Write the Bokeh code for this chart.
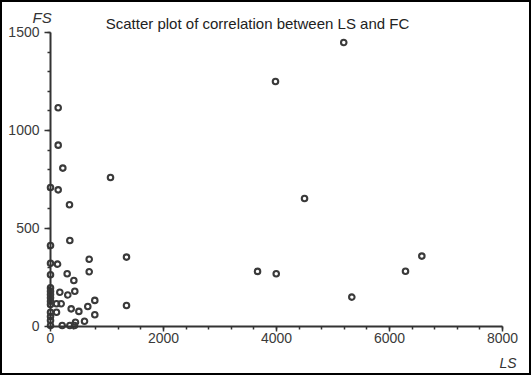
from bokeh.plotting import figure
from bokeh.models import Label, SingleIntervalTicker, Range1d, ColumnDataSource
from bokeh.embed import file_html
from bokeh.resources import INLINE

# Data (LS, FS)
ls = [5190, 3982, 4496, 3664, 3995, 5333, 6283, 6572, 1062, 1345, 1345,
      136, 136, 218, 0, 136, 336, 342, 685, 685,
      0, 0, 0, 0, 0, 0, 0, 0, 0, 0, 0, 0, 0,
      125, 295, 413, 165, 306, 430, 106, 189, 366, 106, 502, 660, 784, 784,
      602, 442, 207, 342, 425]
fs = [1449, 1250, 653, 281, 269, 150, 282, 359, 760, 354, 107,
      1116, 925, 808, 709, 697, 621, 439, 343, 279,
      413, 323, 264, 197, 180, 163, 146, 129, 112, 73, 51, 31, 5,
      318, 269, 235, 175, 161, 180, 116, 116, 90, 73, 77, 102, 133, 60,
      27, 22, 5, 5, 5]

title_text = "Scatter plot of correlation between LS and FC"
x_label = "LS"
y_label = "FS"

FONT = "Liberation Sans"
DARK = "#333333"

p = figure(width=531, height=375, output_backend="svg", toolbar_location=None,
           x_range=Range1d(-885, 8513), y_range=Range1d(-250, 1663),
           min_border=0, min_border_left=0, min_border_right=0,
           min_border_top=0, min_border_bottom=0)
p.title.visible = False
p.xgrid.visible = False
p.ygrid.visible = False
p.outline_line_color = "black"
p.outline_line_width = 3
p.background_fill_color = "white"
p.border_fill_color = "white"

src = ColumnDataSource(dict(ls=ls, fs=fs))
p.scatter("ls", "fs", source=src, marker="circle", size=5.5, line_width=2.1,
          line_color="#3a3a3a", fill_alpha=0)

for ax, interval, bound in ((p.xaxis, 2000, (0, 8000)), (p.yaxis, 500, (0, 1500))):
    ax.fixed_location = 0
    ax.bounds = bound
    ax.ticker = SingleIntervalTicker(interval=interval, num_minor_ticks=5)
    ax.axis_line_color = DARK
    ax.axis_line_width = 2
    ax.major_tick_line_color = DARK
    ax.minor_tick_line_color = DARK
    ax.major_tick_line_width = 1.5
    ax.minor_tick_line_width = 1.5
    ax.major_tick_in = 0
    ax.minor_tick_in = 0
    ax.minor_tick_out = 3
    ax.major_label_text_font = FONT
    ax.major_label_text_font_size = "14px"
    ax.major_label_text_color = "#3a3a3a"

p.xaxis.major_tick_out = 5
p.xaxis.major_label_standoff = 2
p.yaxis.major_tick_out = 6
p.yaxis.major_label_standoff = 5

p.add_layout(Label(x=257, y=352, x_units="screen", y_units="screen", text=title_text,
                   text_align="center", text_baseline="alphabetic",
                   text_font=FONT, text_font_size="15px", text_color="#222222"))
p.add_layout(Label(x=32, y=358, x_units="screen", y_units="screen", text=y_label,
                   text_align="left", text_baseline="alphabetic", text_font_style="italic",
                   text_font=FONT, text_font_size="15px", text_color=DARK))
p.add_layout(Label(x=499, y=13, x_units="screen", y_units="screen", text=x_label,
                   text_align="left", text_baseline="alphabetic", text_font_style="italic",
                   text_font=FONT, text_font_size="14px", text_color=DARK))

open("out.html", "w").write(file_html(p, INLINE))
